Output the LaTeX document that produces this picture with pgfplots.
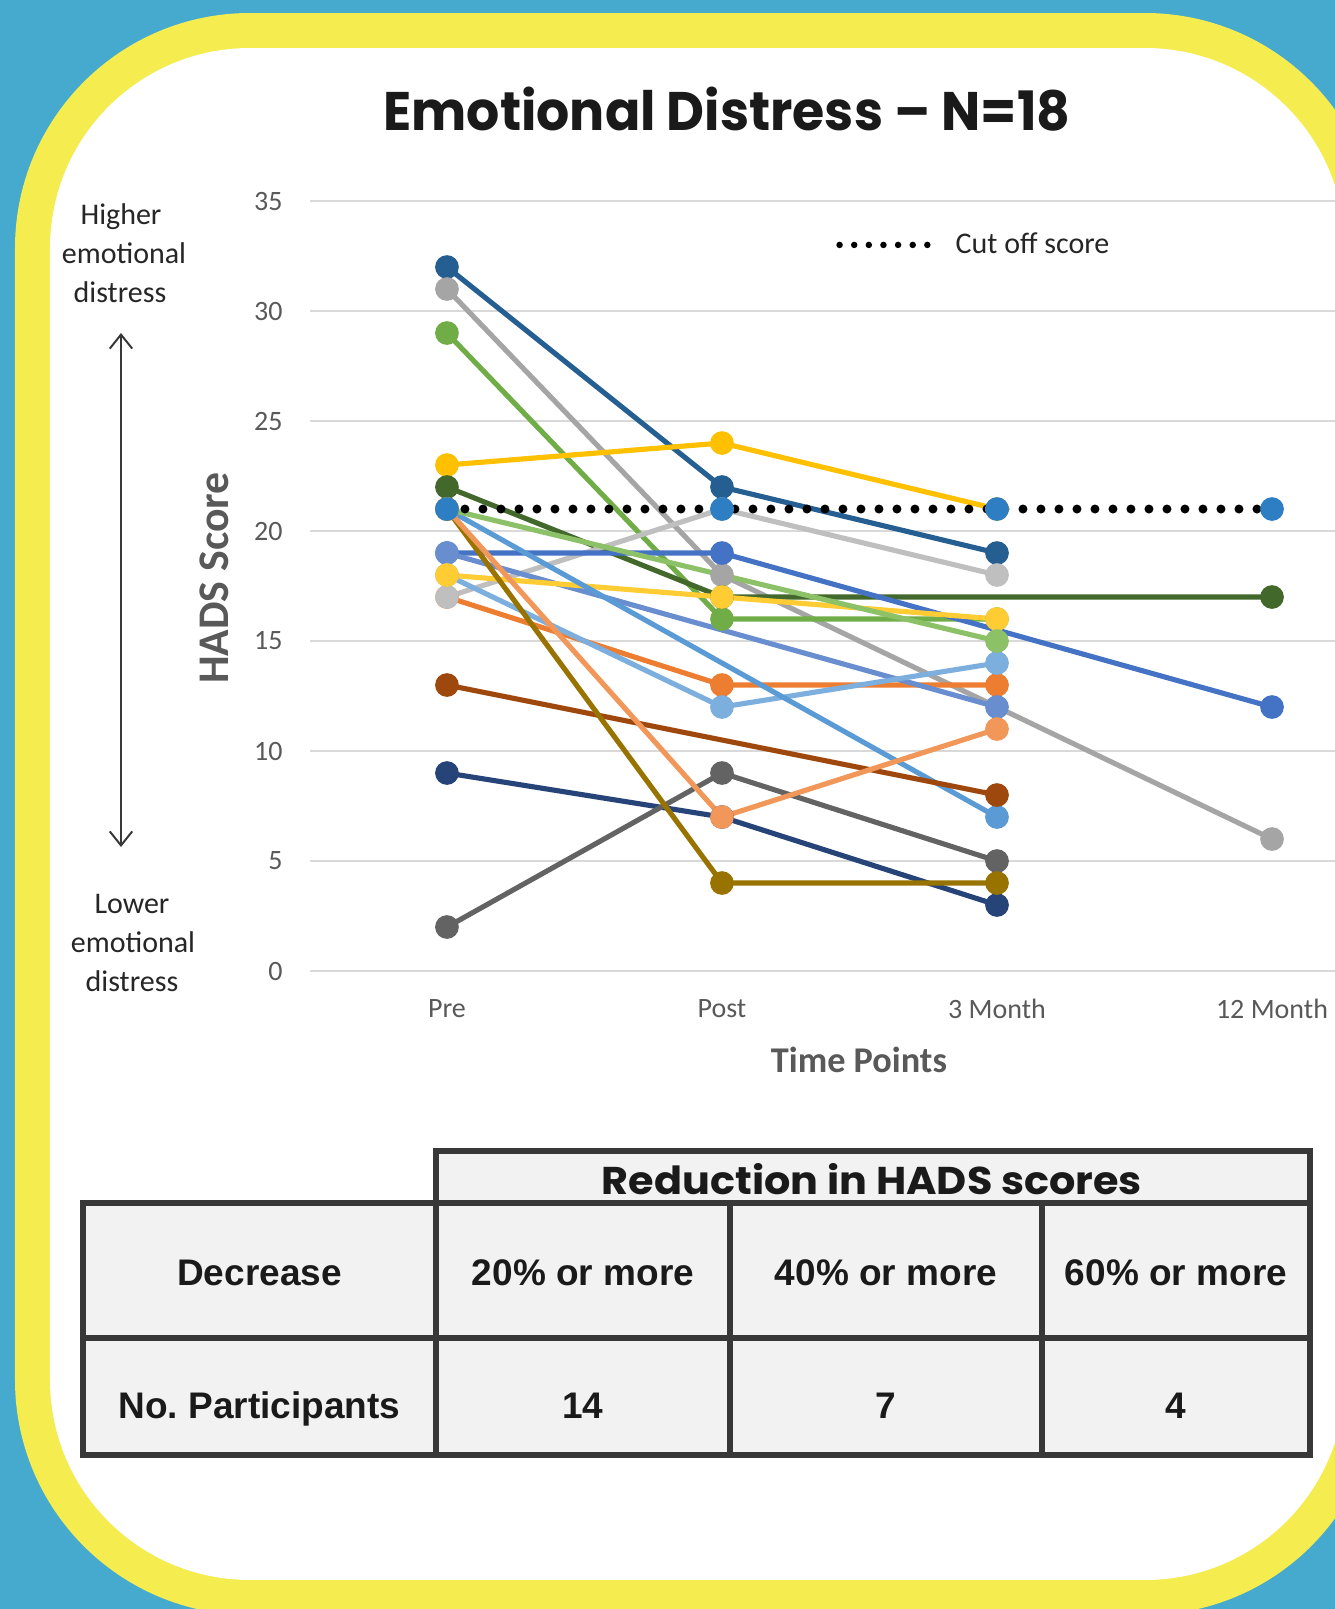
\documentclass[border=0pt]{standalone}
\usepackage{graphicx}
\usepackage{pgfplots}
\pgfplotsset{compat=1.18}
\usepackage{fontspec}
\setmainfont{Carlito}
\newfontfamily\arialfont{Liberation Sans}
\newfontfamily\titlefont{Poppins}
\usetikzlibrary{arrows.meta}
\frenchspacing

\definecolor{bgblue}{HTML}{46AACF}
\definecolor{bordyellow}{HTML}{F5EC50}
\definecolor{gridgray}{HTML}{D9D9D9}
\definecolor{tickgray}{HTML}{595959}
\definecolor{legendtext}{HTML}{262626}
\definecolor{tablegray}{HTML}{F2F2F2}
\definecolor{tableline}{HTML}{383838}
\definecolor{tabletext}{HTML}{1A1A1A}
\definecolor{cDarkblue}{HTML}{255E91}
\definecolor{cGray}{HTML}{A5A5A5}
\definecolor{cGreen}{HTML}{70AD47}
\definecolor{cGold}{HTML}{FFC000}
\definecolor{cDkgreen}{HTML}{43682B}
\definecolor{cCut}{HTML}{2E7EC4}
\definecolor{cLtgray}{HTML}{BFBFBF}
\definecolor{cBlue}{HTML}{4472C4}
\definecolor{cLav}{HTML}{698ED0}
\definecolor{cYellow}{HTML}{FFCD33}
\definecolor{cLtblue}{HTML}{7CAFDD}
\definecolor{cMedblue}{HTML}{5B9BD5}
\definecolor{cOrange}{HTML}{ED7D31}
\definecolor{cLtgreen}{HTML}{8CC168}
\definecolor{cBrown}{HTML}{9E480E}
\definecolor{cNavy}{HTML}{264478}
\definecolor{cDkgray}{HTML}{636363}
\definecolor{cOlive}{HTML}{997300}
\definecolor{cLtorange}{HTML}{F1975A}

\begin{document}
\begin{tikzpicture}
\useasboundingbox (0pt,0pt) rectangle (534pt,-643.6pt);
\begin{scope}[x=0.4pt,y=-0.4pt]
\fill[bgblue] (0,0) rectangle (1335,1609);
\begin{scope}
\clip (0,0) rectangle (1335,1609);
\fill[bordyellow, rounded corners=94pt] (15,13) rectangle (1380,1615);
\fill[white, rounded corners=80pt] (50,48) rectangle (1345,1580);
\end{scope}
% title
\node[anchor=base west, inner sep=0pt, text=tabletext] at (383,130)
  {\resizebox{274.8pt}{17.4pt}{\titlefont\bfseries Emotional Distress – N=18}};
\end{scope}

\begin{axis}[
  at={(124pt,-388.4pt)}, anchor=south west,
  scale only axis, width=410pt, height=308pt,
  xmin=-0.498, xmax=3.229, ymin=0, ymax=35,
  xtick={0,1,2,3}, xticklabels={Pre,Post,3 Month,12 Month},
  ytick={0,5,...,35},
  tick label style={font=\fontsize{11.2}{13}\selectfont, text=tickgray},
  xticklabel style={anchor=center, yshift=-15.2pt},
  yticklabel style={anchor=east, xshift=-10.8pt, inner sep=0pt},
  /pgf/number format/assume math mode=true,
  major tick length=0pt,
  axis line style={draw=none},
  ymajorgrids, grid style={draw=gridgray, line width=0.8pt},
  clip=false,
  every axis plot/.append style={line width=2.05pt, mark=*, mark size=3.7pt, mark options={solid}},
  legend style={at={(0.513,0.943)}, anchor=west, draw=none, fill=none, inner sep=0pt,
    font=\fontsize{12}{14}\selectfont, nodes={inner sep=0pt, text=legendtext}},
  legend image code/.code={\draw[black, line width=2.6pt, line cap=round, dash pattern=on 0pt off 5.85pt] (0pt,0pt) -- (35.15pt,0pt);},
]
\addplot[color=cDarkblue, forget plot] coordinates {(0,32) (1,22) (2,19)};
\addplot[color=cGray, forget plot] coordinates {(0,31) (1,18) (3,6)};
\addplot[color=cGreen, forget plot] coordinates {(0,29) (1,16) (2,16)};
\addplot[color=cGold, forget plot] coordinates {(0,23) (1,24) (2,21)};
\addplot[color=cDkgreen, forget plot] coordinates {(0,22) (1,17) (3,17)};
\addplot[color=cOrange, forget plot] coordinates {(0,17) (1,13) (2,13)};
\addplot[color=cLtgray, forget plot] coordinates {(0,17) (1,21) (2,18)};
\addplot[color=cBlue, forget plot] coordinates {(0,19) (1,19) (3,12)};
\addplot[color=cLav, forget plot] coordinates {(0,19) (2,12)};
\addplot[color=cLtblue, forget plot] coordinates {(0,18) (1,12) (2,14)};
\addplot[color=cYellow, forget plot] coordinates {(0,18) (1,17) (2,16)};
\addplot[color=cMedblue, forget plot] coordinates {(0,21) (2,7)};
\addplot[color=cLtgreen, forget plot] coordinates {(0,21) (2,15)};
\addplot[color=cBrown, forget plot] coordinates {(0,13) (2,8)};
\addplot[color=cNavy, forget plot] coordinates {(0,9) (1,7) (2,3)};
\addplot[color=cDkgray, forget plot] coordinates {(0,2) (1,9) (2,5)};
\addplot[color=cOlive, forget plot] coordinates {(0,21) (1,4) (2,4)};
\addplot[color=cLtorange, forget plot] coordinates {(0,21) (1,7) (2,11)};
\addplot[black, mark=none, line width=3.6pt, line cap=round, dash pattern=on 0pt off 7.2pt] coordinates {(0,21) (3,21)};
\addlegendentry{\hspace{10pt}Cut off score}
\addplot[color=cCut, only marks, forget plot] coordinates {(0,21) (1,21) (2,21) (3,21)};
\end{axis}

\begin{scope}[x=0.4pt,y=-0.4pt]
% axis titles
\node[rotate=90, inner sep=0pt, text=tickgray, font=\bfseries\fontsize{17.5}{20}\selectfont] at (214,578) {HADS Score};
\node[inner sep=0pt, text=tickgray, font=\bfseries\fontsize{14.5}{17}\selectfont] at (859,1060) {Time Points};

% side annotations
\begin{scope}[every node/.style={anchor=base, inner sep=0pt, text=legendtext, font=\fontsize{12}{14}\selectfont}]
\node at (121,224) {Higher};
\node at (124,263) {emotional};
\node at (120,302) {distress};
\node at (132,913) {Lower};
\node at (133,952) {emotional};
\node at (132,991) {distress};
\end{scope}
\draw[{Straight Barb[length=5.6pt,width=9pt]}-{Straight Barb[length=5.6pt,width=9pt]}, color=tableline, line width=0.8pt] (121,333) -- (121,847);

% table
\fill[tablegray] (436,1151) rectangle (1310,1203);
\fill[tablegray] (83,1203) rectangle (1310,1455);
\begin{scope}[draw=tableline, line width=2.4pt]
\draw (436,1203) -- (436,1151) -- (1310,1151) -- (1310,1203);
\draw (83,1203) rectangle (1310,1455);
\draw (83,1338) -- (1310,1338);
\draw (436,1203) -- (436,1455);
\draw (730,1203) -- (730,1455);
\draw (1042,1203) -- (1042,1455);
\end{scope}
\node[anchor=base, inner sep=0pt, text=tabletext] at (872,1195)
  {\resizebox{216pt}{12.4pt}{\titlefont\bfseries Reduction in HADS scores}};
\begin{scope}[every node/.style={anchor=base, inner sep=0pt, text=tabletext, font=\arialfont\bfseries\fontsize{14.8}{17}\selectfont}]
\node at (259.5,1286) {Decrease};
\node at (583,1286) {20\% or more};
\node at (886,1286) {40\% or more};
\node at (1176,1286) {60\% or more};
\node at (259.5,1419) {No. Participants};
\node at (583,1419) {14};
\node at (886,1419) {7};
\node at (1176,1419) {4};
\end{scope}
\end{scope}
\end{tikzpicture}
\end{document}
